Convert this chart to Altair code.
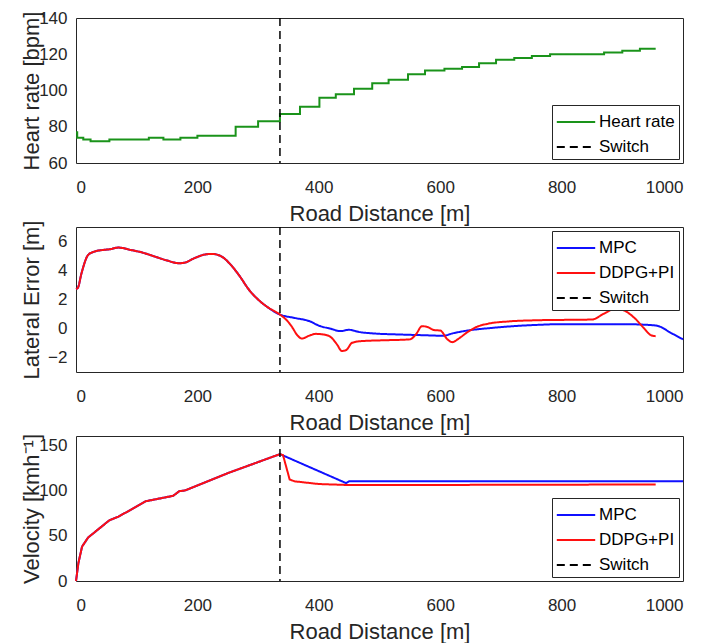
import altair as alt
import pandas as pd

FONT = "Liberation Sans"
TXT = "#262626"
GREEN = "#1a931a"
BLUE = "#1010ff"
RED = "#ff1010"

switch_x = 336

# Heart rate (step)
hr_x = [0, 2, 12, 24, 55, 120, 144, 172, 200, 263, 300, 336, 369, 401, 428, 458, 488,
        515, 547, 575, 607, 636, 664, 692, 722, 751, 781, 870, 900, 929, 955]
hr_y = [77, 74, 73, 72, 73, 74, 73, 74, 75, 80, 83, 87, 91, 96, 98, 101, 104,
        106, 109, 111, 112, 113, 115, 117, 118, 119, 120, 121, 122, 123, 123]

# Lateral error
le_common_x = [0, 3, 9, 20, 30, 45, 55, 70, 90, 110, 130, 150, 170, 180, 195, 215, 225,
               240, 255, 270, 285, 300, 315, 336]
le_common_y = [2.72, 2.8, 3.8, 5.07, 5.3, 5.42, 5.46, 5.58, 5.42, 5.23, 4.96, 4.69, 4.5,
               4.55, 4.85, 5.12, 5.14, 4.96, 4.39, 3.59, 2.67, 2.0, 1.49, 0.96]
mpc_le_x = [360, 385, 400, 420, 435, 450, 465, 490, 530, 570, 605, 620, 650, 680, 720,
            760, 800, 900, 950, 960, 980, 1000]
mpc_le_y = [0.73, 0.5, 0.2, -0.02, -0.18, -0.09, -0.23, -0.34, -0.41, -0.46, -0.5, -0.34,
            -0.11, 0.02, 0.16, 0.25, 0.3, 0.3, 0.23, 0.16, -0.3, -0.75]
ddpg_le_x = [345, 355, 365, 372, 385, 395, 410, 420, 430, 438, 445, 455, 470, 500, 550,
             560, 570, 580, 590, 600, 612, 620, 630, 645, 660, 680, 710, 760, 850, 870,
             890, 900, 920, 935, 948, 955]
ddpg_le_y = [0.66, 0.16, -0.48, -0.69, -0.48, -0.37, -0.43, -0.6, -1.1, -1.55, -1.49,
             -0.98, -0.87, -0.82, -0.75, -0.41, 0.16, 0.09, -0.11, -0.14, -0.75, -0.94,
             -0.71, -0.25, 0.11, 0.34, 0.48, 0.57, 0.62, 1.03, 1.39, 1.3, 0.73, 0.05,
             -0.48, -0.53]

# Velocity
v_common_x = [0, 4, 10, 20, 55, 70, 115, 130, 160, 170, 180, 250, 336]
v_common_y = [0, 20, 38, 48, 67, 71, 88, 90, 94, 99, 100, 119, 140]
mpc_v_x = [445, 450, 1000]
mpc_v_y = [108, 110, 110]
ddpg_v_x = [341, 352, 360, 400, 445, 600, 955]
ddpg_v_y = [139, 112, 110, 107, 106, 106, 106.5]

x_ticks = [0, 200, 400, 600, 800, 1000]


def x_enc():
    return alt.X("x:Q", scale=alt.Scale(domain=[0, 1000], nice=False, zero=False),
                 axis=alt.Axis(title="Road Distance [m]", values=x_ticks, format="d",
                               titleY=40, titleBaseline="top", labelPadding=16))


def y_enc(title, dom, vals):
    return alt.Y("y:Q", scale=alt.Scale(domain=dom, nice=False, zero=False),
                 axis=alt.Axis(title=title, values=vals, format="d", titleX=-33,
                               titleBaseline="bottom", labelPadding=9))


def legend(orient):
    return alt.Legend(title=None, orient=orient, offset=4, fillColor="white",
                      strokeColor=TXT, padding=4, symbolType="M-1.6,0H1.6",
                      symbolSize=576, symbolStrokeWidth=2, symbolOffset=7,
                      labelOffset=10, labelFontSize=17, labelFont=FONT,
                      labelColor="black", rowPadding=4)


def panel(df, sw_domain, sw_colors, sw_dash, ytitle, ydom, yvals, orient, interp):
    cscale = alt.Scale(domain=sw_domain, range=sw_colors)
    dscale = alt.Scale(domain=sw_domain, range=sw_dash)
    lg = legend(orient)
    line = alt.Chart(df).mark_line(strokeWidth=2, interpolate=interp).encode(
        x=x_enc(), y=y_enc(ytitle, ydom, yvals),
        color=alt.Color("series:N", scale=cscale, legend=lg, sort=sw_domain),
        strokeDash=alt.StrokeDash("series:N", scale=dscale, legend=lg, sort=sw_domain),
        detail="series:N",
    )
    sw = pd.DataFrame({"x": [switch_x], "series": ["Switch"]})
    rule = alt.Chart(sw).mark_rule(strokeWidth=1.5).encode(
        x="x:Q",
        color=alt.Color("series:N", scale=cscale, legend=lg, sort=sw_domain),
        strokeDash=alt.StrokeDash("series:N", scale=dscale, legend=lg, sort=sw_domain),
    )
    return alt.layer(line, rule).properties(width=607, height=145)


hr_df = pd.DataFrame({"x": hr_x, "y": hr_y, "series": "Heart rate"})
p1 = panel(hr_df, ["Heart rate", "Switch"], [GREEN, "black"], [[1, 0], [8, 5]],
           "Heart rate [bpm]", [60, 140], [60, 80, 100, 120, 140], "bottom-right",
           "step-after")

le_df = pd.concat([
    pd.DataFrame({"x": le_common_x + mpc_le_x, "y": le_common_y + mpc_le_y, "series": "MPC"}),
    pd.DataFrame({"x": le_common_x + ddpg_le_x, "y": le_common_y + ddpg_le_y, "series": "DDPG+PI"}),
])
p2 = panel(le_df, ["MPC", "DDPG+PI", "Switch"], [BLUE, RED, "black"],
           [[1, 0], [1, 0], [8, 5]], "Lateral Error [m]", [-3, 7], [-2, 0, 2, 4, 6],
           "top-right", "monotone")

v_df = pd.concat([
    pd.DataFrame({"x": v_common_x + mpc_v_x, "y": v_common_y + mpc_v_y, "series": "MPC"}),
    pd.DataFrame({"x": v_common_x + ddpg_v_x, "y": v_common_y + ddpg_v_y, "series": "DDPG+PI"}),
])
p3 = panel(v_df, ["MPC", "DDPG+PI", "Switch"], [BLUE, RED, "black"],
           [[1, 0], [1, 0], [8, 5]], "Velocity [kmh\u207b\u00b9]", [0, 160], [0, 50, 100, 150],
           "bottom-right", "linear")

chart = alt.vconcat(p1, p2, p3, spacing=64, bounds="flush").resolve_scale(
    color="independent", strokeDash="independent", x="independent", y="independent"
).resolve_legend(color="independent", strokeDash="independent").properties(
    padding={"left": 11, "top": 0, "right": 5, "bottom": 0}
).configure(font=FONT, background="white").configure_view(
    stroke=TXT, strokeWidth=1
).configure_axis(
    grid=False, domain=False, ticks=False,
    labelFont=FONT, labelFontSize=17, labelColor=TXT,
    titleFont=FONT, titleFontSize=22, titleFontWeight="normal", titleColor=TXT,
)

chart.save("out.html", embed_options={"renderer": "svg", "actions": False})
